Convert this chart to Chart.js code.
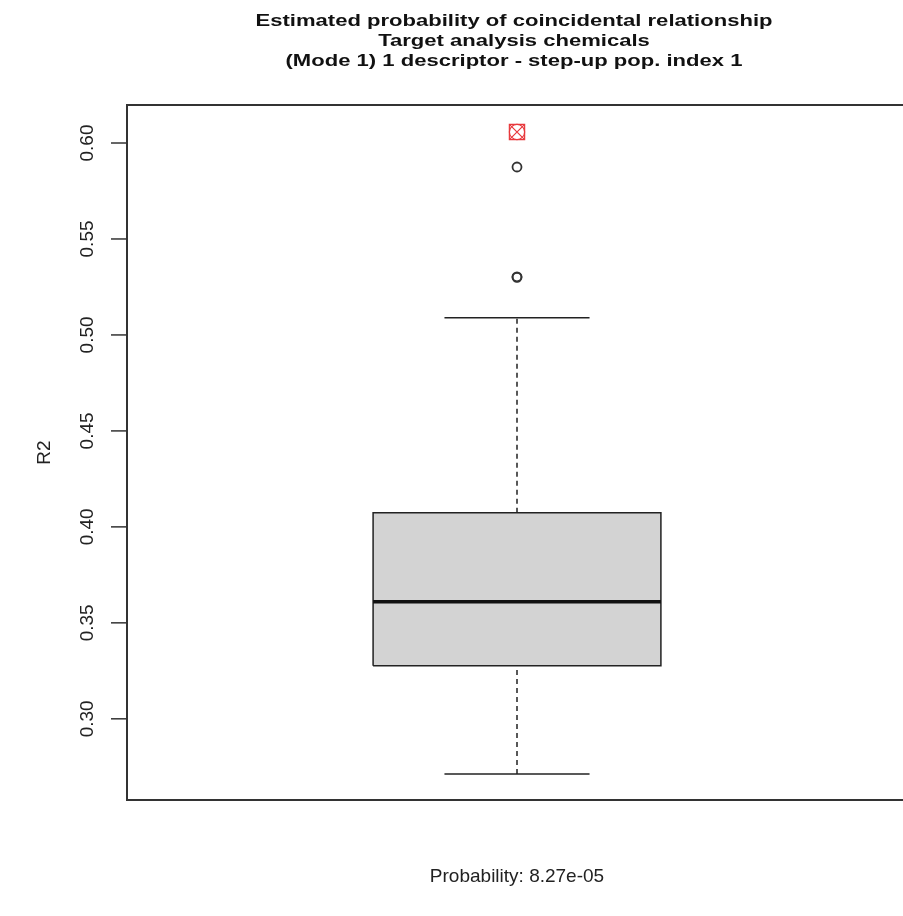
<!DOCTYPE html>
<html>
<head>
<meta charset="utf-8">
<script src="https://cdn.jsdelivr.net/npm/chart.js@4.4.0/dist/chart.umd.min.js"></script>
<style>
  html, body { margin: 0; padding: 0; background: #fff; overflow: hidden; }
  canvas { display: block; }
</style>
</head>
<body>
<canvas id="boxChart" width="920" height="916"></canvas>
<script>
"use strict";

// chart text
var titleLines = [
  'Estimated probability of coincidental relationship',
  'Target analysis chemicals',
  '(Mode 1) 1 descriptor - step-up pop. index 1'
];
var yTitle = 'R2';
var xTitle = 'Probability: 8.27e-05';
var yTicks = [0.30, 0.35, 0.40, 0.45, 0.50, 0.55, 0.60];
var yRange = [0.2577, 0.6198];

// boxplot stats
var boxX = 1;
var lowWhisker = 0.2713;
var q1 = 0.3276;
var median = 0.3610;
var q3 = 0.4073;
var highWhisker = 0.5089;
var outliers = [0.5300, 0.5303, 0.5875];
var observed = [0.6057];

// half widths in x units (box and whisker caps)
var boxHalf = 0.369;
var capHalf = 0.186;

function seg(x0, x1, y0, y1) {
  return [{ x: x0, y: y0 }, { x: x1, y: y1 }];
}

var lineBase = { type: 'line', pointRadius: 0, fill: false, tension: 0 };

var rAxes = {
  id: 'rAxes',
  afterDraw: function (chart) {
    var c = chart.ctx;
    var a = chart.chartArea;
    var ys = chart.scales.y;
    var cx = (a.left + a.right) / 2;
    c.save();
    // frame
    c.strokeStyle = '#333';
    c.lineWidth = 2;
    c.strokeRect(a.left, a.top, a.right - a.left, a.bottom - a.top);
    // ticks + labels
    c.lineWidth = 1.5;
    c.fillStyle = '#222';
    c.font = '19px "Liberation Sans", Arial, sans-serif';
    yTicks.forEach(function (t) {
      var py = ys.getPixelForValue(t);
      c.beginPath();
      c.moveTo(a.left - 16, py);
      c.lineTo(a.left, py);
      c.stroke();
      c.save();
      c.translate(93, py);
      c.rotate(-Math.PI / 2);
      c.textAlign = 'center';
      c.textBaseline = 'alphabetic';
      c.fillText(t.toFixed(2), 0, 0);
      c.restore();
    });
    // y title
    c.save();
    c.translate(50, (a.top + a.bottom) / 2);
    c.rotate(-Math.PI / 2);
    c.textAlign = 'center';
    c.fillText(yTitle, 0, 0);
    c.restore();
    // x title
    c.textAlign = 'center';
    c.fillText(xTitle, cx, 882);
    // main title, drawn wide like the original
    c.fillStyle = '#111';
    c.font = 'bold 17px "Liberation Sans", Arial, sans-serif';
    titleLines.forEach(function (s, i) {
      c.save();
      c.translate(cx - 3, 26 + i * 20);
      c.scale(1.297, 1);
      c.fillText(s, 0, 0);
      c.restore();
    });
    c.restore();
  }
};

var ctx = document.getElementById('boxChart');
var myChart = new Chart(ctx, {
  type: 'scatter',
  data: {
    datasets: [
      // box
      Object.assign({}, lineBase, {
        data: [
          { x: boxX - boxHalf, y: q1 }, { x: boxX + boxHalf, y: q1 },
          { x: boxX + boxHalf, y: q3 }, { x: boxX - boxHalf, y: q3 },
          { x: boxX - boxHalf, y: q1 }
        ],
        fill: 'shape',
        backgroundColor: '#d3d3d3',
        borderColor: '#222',
        borderWidth: 1.5,
        order: 5
      }),
      // median
      Object.assign({}, lineBase, {
        data: seg(boxX - boxHalf, boxX + boxHalf, median, median),
        borderColor: '#111', borderWidth: 3.5, order: 1
      }),
      // whiskers
      Object.assign({}, lineBase, {
        data: seg(boxX, boxX, q3, highWhisker),
        borderColor: '#222', borderWidth: 1.5, borderDash: [5, 4], order: 4
      }),
      Object.assign({}, lineBase, {
        data: seg(boxX, boxX, lowWhisker, q1),
        borderColor: '#222', borderWidth: 1.5, borderDash: [5, 4], order: 4
      }),
      // caps
      Object.assign({}, lineBase, {
        data: seg(boxX - capHalf, boxX + capHalf, highWhisker, highWhisker),
        borderColor: '#222', borderWidth: 1.5, order: 3
      }),
      Object.assign({}, lineBase, {
        data: seg(boxX - capHalf, boxX + capHalf, lowWhisker, lowWhisker),
        borderColor: '#222', borderWidth: 1.5, order: 3
      }),
      // outliers
      {
        data: outliers.map(function (v) { return { x: boxX, y: v }; }),
        pointStyle: 'circle', pointRadius: 4.5, borderColor: '#333',
        backgroundColor: 'rgba(0,0,0,0)', borderWidth: 1.8, order: 2
      },
      // observed value (red square / circle / x)
      {
        data: observed.map(function (v) { return { x: boxX, y: v }; }),
        pointStyle: 'rect', pointRadius: 10.8, borderColor: 'rgb(232,56,60)',
        backgroundColor: 'rgba(0,0,0,0)', borderWidth: 1.2, order: 0
      },
      {
        data: observed.map(function (v) { return { x: boxX, y: v }; }),
        pointStyle: 'crossRot', pointRadius: 10.8, borderColor: 'rgb(232,56,60)',
        borderWidth: 1.2, order: 0
      },
      {
        data: observed.map(function (v) { return { x: boxX, y: v }; }),
        pointStyle: 'circle', pointRadius: 7.6, borderColor: 'rgb(232,56,60)',
        backgroundColor: 'rgba(0,0,0,0)', borderWidth: 1.2, order: 0
      }
    ]
  },
  options: {
    responsive: false,
    animation: false,
    events: [],
    layout: { padding: { top: 105, bottom: 116, right: 13, left: 0 } },
    plugins: {
      legend: { display: false },
      tooltip: { enabled: false }
    },
    scales: {
      x: { type: 'linear', min: 0, max: 2, display: false },
      y: {
        type: 'linear',
        min: yRange[0],
        max: yRange[1],
        grid: { display: false },
        border: { display: false },
        ticks: { display: false },
        afterFit: function (scale) { scale.width = 127; }
      }
    }
  },
  plugins: [rAxes]
});
</script>
</body>
</html>
